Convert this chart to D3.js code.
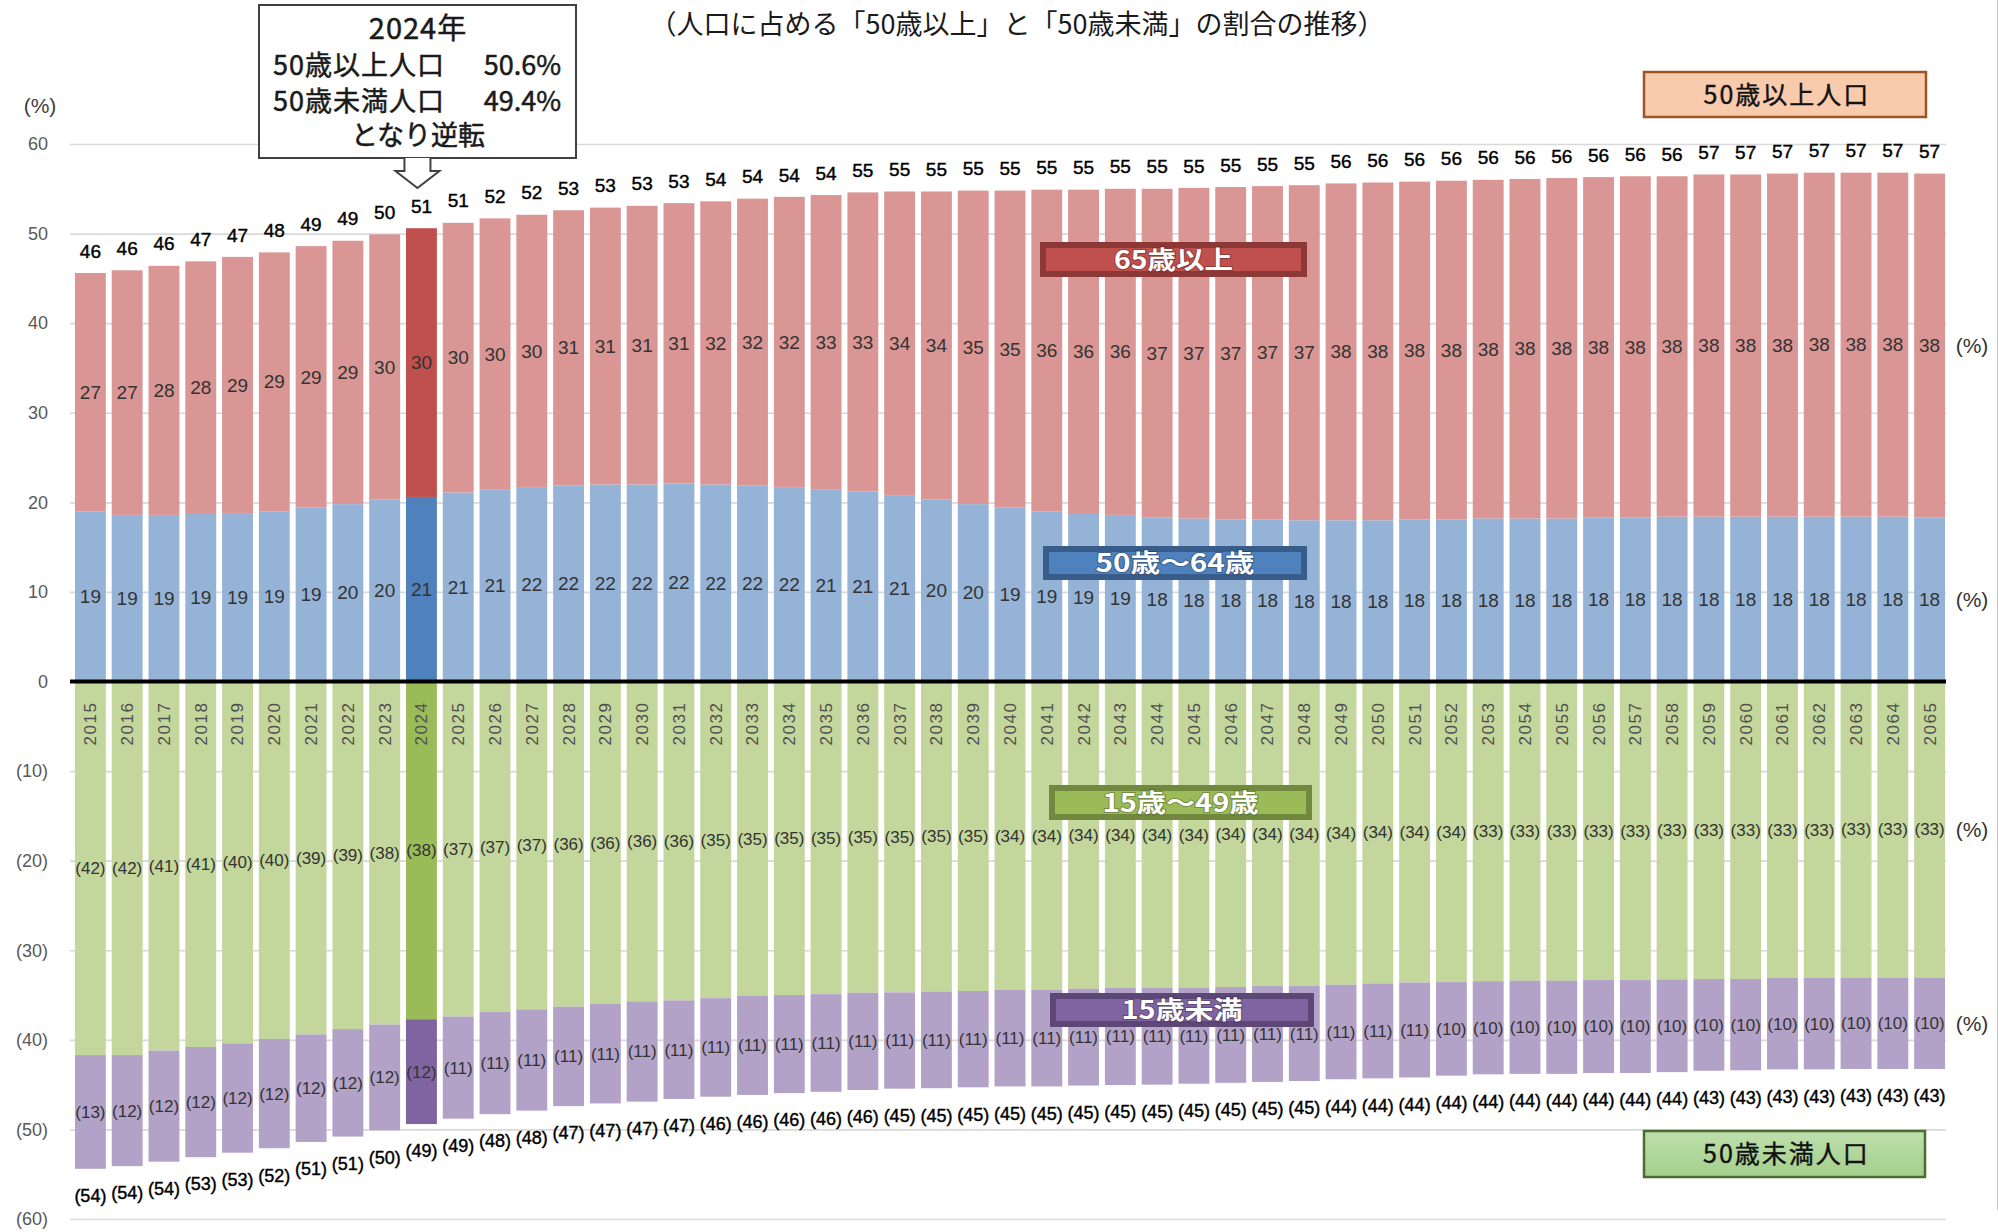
<!DOCTYPE html>
<html lang="ja">
<head>
<meta charset="utf-8">
<script src="https://cdn.jsdelivr.net/npm/d3@7"></script>
<style>
  html, body { margin: 0; padding: 0; background: #fff; }
  svg { display: block; }
  text { font-family: "Liberation Sans", "Noto Sans CJK JP", sans-serif; }
  .jp { font-family: "Noto Sans CJK JP", sans-serif; }
</style>
</head>
<body>
<svg id="chart" width="1998" height="1232"></svg>
<script>
// 人口に占める「50歳以上」と「50歳未満」の割合（%）
const years = [2015, 2016, 2017, 2018, 2019, 2020, 2021, 2022, 2023, 2024,
  2025, 2026, 2027, 2028, 2029, 2030, 2031, 2032, 2033, 2034,
  2035, 2036, 2037, 2038, 2039, 2040, 2041, 2042, 2043, 2044,
  2045, 2046, 2047, 2048, 2049, 2050, 2051, 2052, 2053, 2054,
  2055, 2056, 2057, 2058, 2059, 2060, 2061, 2062, 2063, 2064, 2065];

// 50歳以上
const age50to64 = [19.0, 18.6, 18.6, 18.7, 18.8, 19.0, 19.4, 19.8, 20.3, 20.6,
  21.1, 21.4, 21.7, 21.9, 22.0, 22.0, 22.1, 22.0, 21.9, 21.7,
  21.4, 21.2, 20.8, 20.3, 19.8, 19.4, 19.0, 18.7, 18.6, 18.3,
  18.2, 18.1, 18.1, 18.0, 18.0, 18.0, 18.1, 18.1, 18.2, 18.2,
  18.2, 18.3, 18.3, 18.4, 18.4, 18.4, 18.4, 18.4, 18.4, 18.4, 18.3];
const age65plus = [26.6, 27.3, 27.8, 28.2, 28.6, 28.9, 29.2, 29.4, 29.6, 30.0,
  30.1, 30.3, 30.4, 30.7, 30.9, 31.1, 31.3, 31.6, 32.0, 32.4,
  32.9, 33.4, 33.9, 34.4, 35.0, 35.4, 35.9, 36.2, 36.4, 36.7,
  36.9, 37.1, 37.2, 37.4, 37.6, 37.7, 37.7, 37.8, 37.8, 37.9,
  38.0, 38.0, 38.1, 38.0, 38.2, 38.2, 38.3, 38.4, 38.4, 38.4, 38.4];

// 50歳未満
const age15to49 = [41.7, 41.7, 41.2, 40.8, 40.4, 39.9, 39.4, 38.8, 38.3, 37.7,
  37.4, 36.9, 36.6, 36.3, 36.0, 35.7, 35.6, 35.35, 35.1, 35.0,
  34.9, 34.75, 34.7, 34.6, 34.55, 34.4, 34.4, 34.3, 34.2, 34.2,
  34.2, 34.1, 34.0, 34.0, 33.85, 33.7, 33.6, 33.55, 33.45, 33.4,
  33.4, 33.3, 33.3, 33.25, 33.2, 33.2, 33.1, 33.1, 33.05, 33.05, 33.05];
const under15 = [12.7, 12.4, 12.4, 12.3, 12.2, 12.2, 12.0, 12.0, 11.8, 11.7,
  11.4, 11.4, 11.3, 11.1, 11.1, 11.2, 11.0, 11.0, 11.05, 10.95,
  10.9, 10.85, 10.75, 10.8, 10.75, 10.8, 10.8, 10.8, 10.85, 10.8,
  10.7, 10.7, 10.7, 10.6, 10.55, 10.6, 10.6, 10.45, 10.4, 10.4,
  10.4, 10.4, 10.4, 10.35, 10.25, 10.2, 10.2, 10.2, 10.2, 10.2, 10.2];

const yTicks = [-60, -50, -40, -30, -20, -10, 0, 10, 20, 30, 40, 50, 60];
const highlightYear = 2024;

const seriesKeys = ["a50", "a65", "a15", "u15"];
const seriesNames = { a50: "50歳～64歳", a65: "65歳以上", a15: "15歳～49歳", u15: "15歳未満" };
const lightFill = { a50: "#95b3d7", a65: "#d99694", a15: "#c3d69b", u15: "#b3a2c7" };
const darkFill  = { a50: "#4f81bd", a65: "#c0504d", a15: "#9bbb59", u15: "#8064a2" };
const darkEdge  = { a50: "#385d8a", a65: "#8c3836", a15: "#71893f", u15: "#5c4776" };

const svg = d3.select("#chart");
const left = 70, right = 1946;

const x = d3.scaleBand().domain(years).range([72, 1948]).paddingInner(0.16).paddingOuter(0.08);
const y = d3.scaleLinear().domain([-60, 60]).range([1219, 144]);
const cx = yr => x(yr) + x.bandwidth() / 2;
const r0 = v => Math.round(v);

// rows: values above zero go up, values below zero go down
const rows = years.map((yr, i) => ({
  year: yr,
  a50: age50to64[i],
  a65: age65plus[i],
  a15: -age15to49[i],
  u15: -under15[i]
}));
const stacked = d3.stack().keys(seriesKeys).offset(d3.stackOffsetDiverging)(rows);

// gridlines and tick labels
const yAxis = d3.axisLeft(y).tickValues(yTicks).tickSize(-(right - left)).tickPadding(22)
  .tickFormat(v => v >= 0 ? String(v) : `(${-v})`);
const gAxis = svg.append("g").attr("transform", `translate(${left},0)`).call(yAxis);
gAxis.select(".domain").remove();
gAxis.selectAll(".tick line").attr("stroke", "#d9d9d9").attr("stroke-width", 1.6);
gAxis.selectAll(".tick text").attr("fill", "#595959").attr("font-size", 18)
  .attr("font-family", "'Liberation Sans', sans-serif");

// stacked bars
svg.append("g").selectAll("g").data(stacked).join("g")
  .each(function (s) {
    d3.select(this).selectAll("rect").data(s).join("rect")
      .attr("x", d => x(d.data.year))
      .attr("width", x.bandwidth())
      .attr("y", d => y(Math.max(d[0], d[1])))
      .attr("height", d => Math.abs(y(d[0]) - y(d[1])))
      .attr("fill", d => d.data.year === highlightYear ? darkFill[s.key] : lightFill[s.key]);
  });

// zero line
svg.append("line").attr("x1", left).attr("x2", right).attr("y1", y(0)).attr("y2", y(0))
  .attr("stroke", "#000").attr("stroke-width", 4);

// segment value labels
const segLabels = svg.append("g");
stacked.forEach(s => {
  const neg = s.key === "a15" || s.key === "u15";
  segLabels.append("g").selectAll("text").data(s).join("text")
    .attr("x", d => cx(d.data.year))
    .attr("y", d => y((d[0] + d[1]) / 2))
    .attr("dy", "0.35em")
    .attr("text-anchor", "middle")
    .attr("font-size", neg ? 17 : 19)
    .attr("fill", "#333")
    .text(d => {
      const v = Math.abs(d[1] - d[0]);
      return neg ? `(${r0(v)})` : r0(v);
    });
});

// totals above and below
const totalsUp = years.map((yr, i) => ({ year: yr, v: age50to64[i] + age65plus[i] }));
const totalsDown = years.map((yr, i) => ({ year: yr, v: age15to49[i] + under15[i] }));
svg.append("g").selectAll("text").data(totalsUp).join("text")
  .attr("x", d => cx(d.year)).attr("y", d => y(d.v) - 22).attr("dy", "0.35em")
  .attr("text-anchor", "middle").attr("font-size", 19).attr("fill", "#000")
  .attr("style", "paint-order: stroke; stroke: #000; stroke-width: 0.4px;")
  .text(d => r0(d.v));
svg.append("g").selectAll("text").data(totalsDown).join("text")
  .attr("x", d => cx(d.year)).attr("y", d => y(-d.v) + 27).attr("dy", "0.35em")
  .attr("text-anchor", "middle").attr("font-size", 18).attr("fill", "#000")
  .attr("style", "paint-order: stroke; stroke: #000; stroke-width: 0.4px;")
  .text(d => `(${r0(d.v)})`);

// year labels, rotated inside the bars
svg.append("g").selectAll("text").data(years).join("text")
  .attr("transform", d => `translate(${cx(d)},${y(0) + 42}) rotate(-90)`)
  .attr("text-anchor", "middle").attr("dy", "0.35em")
  .attr("font-size", 17).attr("letter-spacing", 1.6).attr("fill", "#505050")
  .text(d => d);

// unit marks
svg.append("text").attr("x", 40).attr("y", 106).attr("dy", "0.35em").attr("text-anchor", "middle")
  .attr("font-size", 21).attr("fill", "#404040").text("(%)");
const last = stacked.map(s => s[s.length - 1]);
svg.append("g").selectAll("text").data(last).join("text")
  .attr("x", 1972).attr("y", d => y((d[0] + d[1]) / 2)).attr("dy", "0.35em")
  .attr("text-anchor", "middle").attr("font-size", 21).attr("fill", "#333")
  .text("(%)");

// series name tags
const tags = [
  { key: "a65", x: 1043, y: 245, w: 261, h: 29, tl: 119 },
  { key: "a50", x: 1046, y: 549, w: 258, h: 28, tl: 159 },
  { key: "a15", x: 1052, y: 788, w: 257, h: 29, tl: 156 },
  { key: "u15", x: 1053, y: 996, w: 258, h: 28, tl: 121 }
];
const gTags = svg.append("g");
tags.forEach(t => {
  gTags.append("rect").attr("x", t.x).attr("y", t.y).attr("width", t.w).attr("height", t.h)
    .attr("fill", darkFill[t.key]).attr("stroke", darkEdge[t.key]).attr("stroke-width", 6);
  gTags.append("text").attr("class", "jp")
    .attr("x", t.x + t.w / 2).attr("y", t.y + t.h / 2).attr("dy", "0.36em")
    .attr("text-anchor", "middle").attr("font-size", 25).attr("font-weight", 700)
    .attr("fill", "#fff").attr("textLength", t.tl).attr("lengthAdjust", "spacingAndGlyphs")
    .attr("style", "paint-order: stroke; stroke: rgba(0,0,0,0.25); stroke-width: 2px;")
    .text(seriesNames[t.key]);
});

// group boxes
const groupBoxes = [
  { label: "50歳以上人口", x: 1644, y: 72, w: 282, h: 45, fill: "#f8cbad", stroke: "#9c5424" },
  { label: "50歳未満人口", x: 1644, y: 1131, w: 281, h: 46, fill: "#add597", stroke: "#4e6b30" }
];
const grad = svg.append("defs").append("linearGradient").attr("id", "greenBox")
  .attr("x1", 0).attr("x2", 0).attr("y1", 0).attr("y2", 1);
grad.append("stop").attr("offset", 0).attr("stop-color", "#bfe0ad");
grad.append("stop").attr("offset", 1).attr("stop-color", "#a3cf8b");
groupBoxes.forEach((b, i) => {
  svg.append("rect").attr("x", b.x).attr("y", b.y).attr("width", b.w).attr("height", b.h)
    .attr("fill", i === 1 ? "url(#greenBox)" : b.fill).attr("stroke", b.stroke).attr("stroke-width", 2.5);
  svg.append("text").attr("class", "jp").attr("x", b.x + b.w / 2 + 2).attr("y", b.y + b.h / 2)
    .attr("dy", "0.36em").attr("text-anchor", "middle").attr("font-size", 25)
    .attr("fill", "#111").attr("letter-spacing", 2)
    .attr("style", "paint-order: stroke; stroke: #111; stroke-width: 0.4px;")
    .text(b.label);
});

// callout for the crossover year
const hi = years.indexOf(highlightYear);
const upShare = age50to64[hi] + age65plus[hi];
const downShare = age15to49[hi] + under15[hi];
const ax = cx(highlightYear) - 4;
const call = svg.append("g");
call.append("rect").attr("x", 259).attr("y", 5).attr("width", 317).attr("height", 153)
  .attr("fill", "#fff").attr("stroke", "#404040").attr("stroke-width", 2);
call.append("path")
  .attr("d", `M${ax - 13},158 L${ax - 13},171 L${ax - 22},171 L${ax},188 L${ax + 22},171 L${ax + 13},171 L${ax + 13},158`)
  .attr("fill", "#fff").attr("stroke", "#404040").attr("stroke-width", 2);
const callStyle = "paint-order: stroke; stroke: #1a1a1a; stroke-width: 0.5px;";
call.append("text").attr("class", "jp").attr("x", 418).attr("y", 29).attr("dy", "0.36em")
  .attr("text-anchor", "middle").attr("font-size", 29).attr("letter-spacing", 1).attr("fill", "#1a1a1a")
  .attr("style", callStyle).text(`${highlightYear}年`);
const fmt1 = d3.format(".1f");
[["50歳以上人口", upShare, 65], ["50歳未満人口", downShare, 101]].forEach(([lab, v, yy]) => {
  call.append("text").attr("class", "jp").attr("x", 273).attr("y", yy).attr("dy", "0.36em")
    .attr("font-size", 27).attr("letter-spacing", 1).attr("fill", "#1a1a1a")
    .attr("style", callStyle).text(lab);
  call.append("text").attr("class", "jp").attr("x", 561).attr("y", yy).attr("dy", "0.36em")
    .attr("text-anchor", "end").attr("font-size", 27).attr("fill", "#1a1a1a")
    .attr("style", callStyle).text(`${fmt1(v)}%`);
});
call.append("text").attr("class", "jp").attr("x", 418).attr("y", 135).attr("dy", "0.36em")
  .attr("text-anchor", "middle").attr("font-size", 27).attr("fill", "#1a1a1a")
  .attr("style", callStyle).text("となり逆転");

// heading
svg.append("text").attr("class", "jp").attr("x", 1017).attr("y", 34)
  .attr("text-anchor", "middle").attr("font-size", 27).attr("fill", "#1a1a1a")
  .text("（人口に占める「50歳以上」と「50歳未満」の割合の推移）");

// right frame edge
svg.append("line").attr("x1", 1997.5).attr("x2", 1997.5).attr("y1", 0).attr("y2", 1210)
  .attr("stroke", "#c8c8c8").attr("stroke-width", 1);
</script>
</body>
</html>
